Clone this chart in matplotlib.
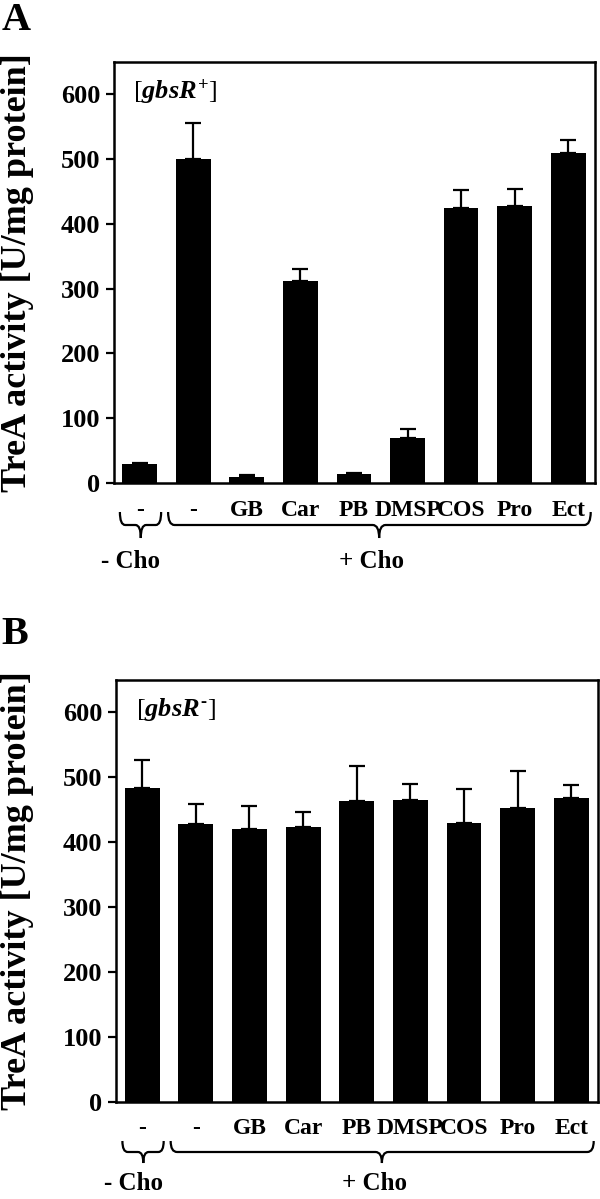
import numpy as np
import matplotlib
matplotlib.use('Agg')
import matplotlib.pyplot as plt
from matplotlib.path import Path
from matplotlib.patches import PathPatch
from matplotlib.transforms import blended_transform_factory

plt.rcParams['font.family'] = 'Liberation Serif'
plt.rcParams['font.weight'] = 'bold'
plt.rcParams['mathtext.fontset'] = 'custom'
plt.rcParams['mathtext.rm'] = 'Liberation Serif'
plt.rcParams['mathtext.it'] = 'Liberation Serif:italic:bold'
plt.rcParams['mathtext.bf'] = 'Liberation Serif:bold'

labels = ['-', '-', 'GB', 'Car', 'PB', 'DMSP', 'COS', 'Pro', 'Ect']

# gbsR+ (panel A)
a_vals = [29, 501, 10, 312, 14, 70, 425, 427, 509]
a_err = [2, 55, 2, 18, 1, 13, 27, 27, 21]

# gbsR- (panel B)
b_vals = [483, 428, 420, 423, 464, 465, 429, 453, 468]
b_err = [43, 31, 36, 23, 54, 24, 53, 57, 20]

W, H = 600, 1199
fig = plt.figure(figsize=(W / 100, H / 100), dpi=100)


def fy(px):
    # pixel row -> figure fraction
    return 1 - px / H


def brace(ax, x0, x1, xm, ytop, ymid, ytip, r=0.12):
    tr = blended_transform_factory(ax.transData, fig.transFigure)
    verts = [(x0, ytop), (x0, ymid), (x0 + r, ymid),
             (xm - r, ymid), (xm, ymid), (xm, ytip),
             (xm, ymid), (xm + r, ymid),
             (x1 - r, ymid), (x1, ymid), (x1, ytop)]
    codes = [Path.MOVETO, Path.CURVE3, Path.CURVE3,
             Path.LINETO, Path.CURVE3, Path.CURVE3,
             Path.CURVE3, Path.CURVE3,
             Path.LINETO, Path.CURVE3, Path.CURVE3]
    ax.add_patch(PathPatch(Path(verts, codes), transform=tr, fill=False,
                           lw=1.6, color='black', clip_on=False))


def panel(rect, vals, err, tag, letter, letter_y, brace_y, cho_y):
    ax = fig.add_axes(rect)
    x = np.arange(len(vals))
    ax.bar(x, vals, width=0.65, color='black')
    ax.errorbar(x, vals, yerr=[np.zeros(len(err)), err], fmt='none',
                ecolor='black', elinewidth=1.6, capsize=6, capthick=1.6)
    ax.set_xlim(-0.48, 8.5)
    ax.set_ylim(0, 650)
    ax.set_yticks(range(0, 700, 100))
    ax.set_xticks(x)
    ax.set_xticklabels(labels, fontsize=17, fontweight='bold')
    ax.tick_params(axis='x', length=0, pad=12)
    ax.tick_params(axis='y', direction='out', length=6, width=1.6,
                   labelsize=19, pad=4)
    for s in ax.spines.values():
        s.set_linewidth(1.8)
    ax.text(0.04, 0.93, tag, transform=ax.transAxes, fontsize=19,
            fontweight='normal', va='center', ha='left')
    # braces and group labels
    brace(ax, -0.37, 0.4, 0.02, *brace_y, r=0.1)
    brace(ax, 0.53, 8.42, 4.47, *brace_y, r=0.12)
    tr = blended_transform_factory(ax.transData, fig.transFigure)
    ax.text(-0.17, cho_y, '- Cho', transform=tr, fontsize=18,
            ha='center', va='top')
    ax.text(4.33, cho_y, '+ Cho', transform=tr, fontsize=18,
            ha='center', va='top')
    fig.text(0.003, letter_y, letter, fontsize=29, fontweight='bold',
             va='center', ha='left')
    fig.text(0.03, rect[1] + rect[3] / 2, 'TreA activity [U/mg protein]',
             rotation=90, fontsize=26, fontweight='bold',
             va='center', ha='center')
    return ax


panel([114 / W, fy(483), 481 / W, 421 / H], a_vals, a_err,
      r'[$\mathit{gbsR}^{+}$]', 'A', fy(21),
      (fy(512), fy(525), fy(538)), fy(550))
panel([116.5 / W, fy(1101.7), 481.5 / W, 421.7 / H], b_vals, b_err,
      r'[$\mathit{gbsR}^{\text{-}}$]', 'B', fy(634),
      (fy(1141), fy(1152), fy(1163)), fy(1172))

fig.savefig('out.png', dpi=100)
